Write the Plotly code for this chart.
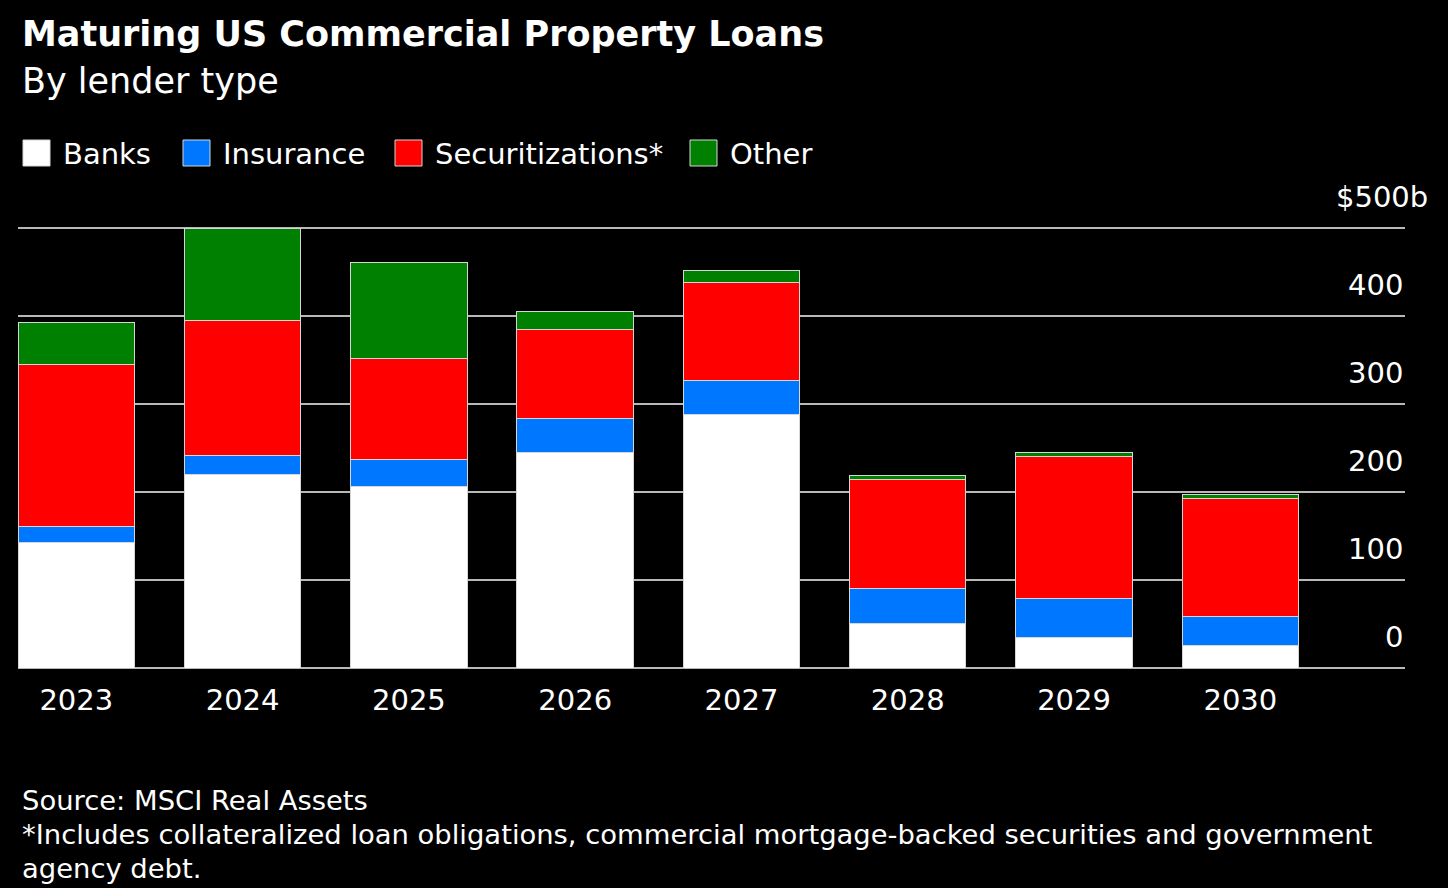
import plotly.graph_objects as go

# Maturing loans by year and lender type ($ billions)
years = ["2023", "2024", "2025", "2026", "2027", "2028", "2029", "2030"]
banks = [142, 220, 206, 245, 288, 50, 35, 25]
insurance = [19, 21, 31, 38, 38, 40, 44, 33]
securitizations = [184, 154, 115, 101, 112, 124, 161, 135]
other = [47, 104, 109, 21, 14, 5, 5, 4]

series_names = ["Banks", "Insurance", "Securitizations*", "Other"]
series_values = [banks, insurance, securitizations, other]
series_colors = ["#ffffff", "#0077ff", "#ff0000", "#008000"]

y_tick_vals = [0, 100, 200, 300, 400, 500]
y_tick_text = ["0", "100", "200", "300", "400", "$500b"]

title = "Maturing US Commercial Property Loans"
subtitle = "By lender type"
footer_lines = [
    "Source: MSCI Real Assets",
    "*Includes collateralized loan obligations, commercial mortgage-backed securities and government",
    "agency debt.",
]

# ---- layout geometry (pixels) ----
FIG_W, FIG_H = 1448, 888
ML, MR, MT, MB = 18, 43, 226, 220
PW = FIG_W - ML - MR
PH = FIG_H - MT - MB
FONT = "DejaVu Sans"
GRID = "#b8b8b8"


def px(x):
    return (x - ML) / PW


def py(y):
    return 1 - (y - MT) / PH


fig = go.Figure()
for name, vals, col in zip(series_names, series_values, series_colors):
    fig.add_trace(
        go.Bar(
            x=years,
            y=vals,
            name=name,
            marker=dict(color=col, line=dict(color="#d6d6d6", width=1)),
            width=0.70,
            showlegend=False,
            hoverinfo="x+y+name",
        )
    )

annotations = []
shapes = []

# Title block
annotations.append(dict(text=f"<b>{title}</b>", x=px(20), y=py(34), xref="paper", yref="paper",
                        xanchor="left", yanchor="middle", showarrow=False,
                        font=dict(family=FONT, size=35, color="#ffffff")))
annotations.append(dict(text=subtitle, x=px(20), y=py(81), xref="paper", yref="paper",
                        xanchor="left", yanchor="middle", showarrow=False,
                        font=dict(family=FONT, size=35, color="#ffffff")))

# Legend row drawn as swatches + labels
legend_left = [23, 183, 395, 690]
for name, col, lx in zip(series_names, series_colors, legend_left):
    shapes.append(dict(type="rect", xref="paper", yref="paper",
                       x0=px(lx), x1=px(lx + 27), y0=py(166), y1=py(140),
                       fillcolor=col, line=dict(color="#d6d6d6", width=1)))
    annotations.append(dict(text=name, x=px(lx + 38), y=py(154), xref="paper", yref="paper",
                            xanchor="left", yanchor="middle", showarrow=False,
                            font=dict(family=FONT, size=29, color="#ffffff")))

# Value-axis labels sitting above their gridlines on the right
for v, t in zip(y_tick_vals, y_tick_text):
    annotations.append(dict(text=t, x=1, y=v, xref="paper", yref="y",
                            xanchor="right", yanchor="middle", yshift=31,
                            xshift=25 if t.startswith("$") else 0, showarrow=False,
                            font=dict(family=FONT, size=29, color="#ffffff")))

# Footer notes
for i, line in enumerate(footer_lines):
    annotations.append(dict(text=line, x=px(20), y=py(800 + 34 * i), xref="paper", yref="paper",
                            xanchor="left", yanchor="middle", showarrow=False,
                            font=dict(family=FONT, size=27.4, color="#ffffff")))

fig.update_layout(
    width=FIG_W,
    height=FIG_H,
    barmode="stack",
    paper_bgcolor="#000000",
    plot_bgcolor="#000000",
    margin=dict(l=ML, r=MR, t=MT, b=MB, pad=0),
    font=dict(family=FONT, color="#ffffff"),
    xaxis=dict(
        type="category",
        range=[-0.3506, 7.99],
        showgrid=False,
        showline=False,
        zeroline=False,
        ticks="",
        tickfont=dict(family=FONT, size=29, color="#ffffff"),
        ticklabelstandoff=12,
        fixedrange=True,
    ),
    yaxis=dict(
        range=[0, 502],
        tickvals=y_tick_vals,
        showticklabels=False,
        showgrid=True,
        gridcolor=GRID,
        gridwidth=2,
        zeroline=True,
        zerolinecolor=GRID,
        zerolinewidth=2,
        showline=False,
        ticks="",
        fixedrange=True,
    ),
    annotations=annotations,
    shapes=shapes,
    showlegend=False,
)

fig.write_html("out.html")
